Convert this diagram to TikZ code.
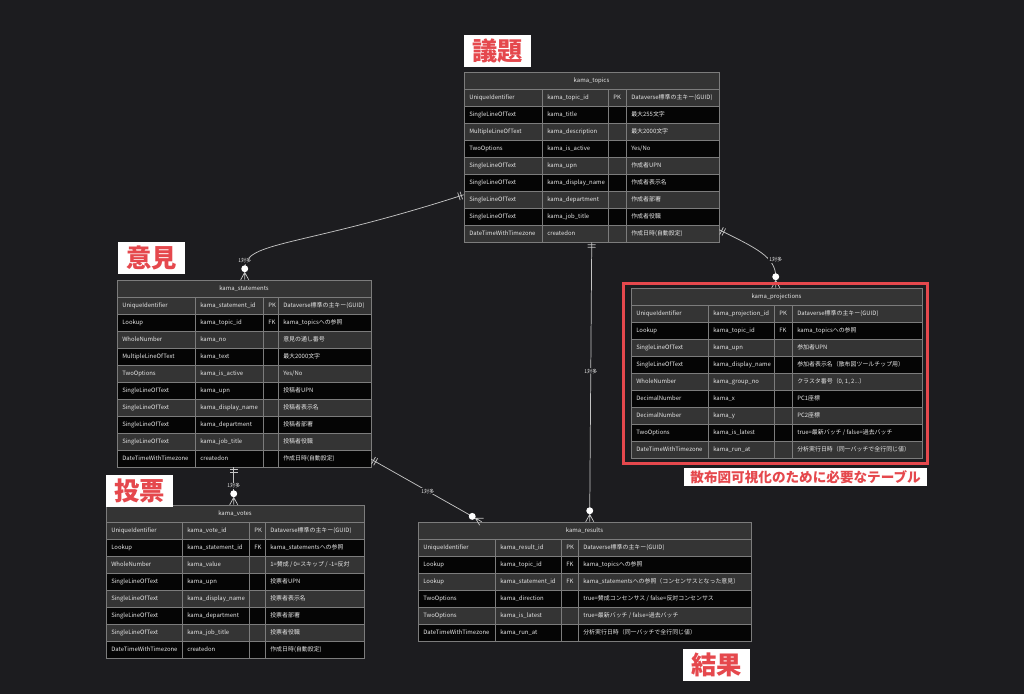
\documentclass[tikz,border=0pt]{standalone}
\usepackage{fontspec}
\setmainfont{Noto Sans CJK JP}
\usepackage{tikz}
\usetikzlibrary{calc,fit,positioning}

\definecolor{bgcol}{HTML}{1C1C1F}
\definecolor{rowodd}{HTML}{343434}
\definecolor{roweven}{HTML}{050505}
\definecolor{gridcol}{HTML}{7C7C7C}
\definecolor{celltext}{HTML}{E6E6E6}
\definecolor{relcol}{HTML}{C4C4C4}
\definecolor{redcol}{HTML}{E5484D}

% 表格: 名称, 左, 上, 列1, 列2, 列3, 右, 标题, 行
\newcommand{\erTable}[9]{%
  \coordinate (#1-tl) at (#2,#3);
  \fill[rowodd] (#2,#3) rectangle (#7,#3+17);
  \draw[gridline] (#2,#3) rectangle (#7,#3+17);
  \node[cell, anchor=center] at ({(#2+#7)/2},#3+8.5) {#8};
  \foreach \fType/\fName/\fKey/\fNote [count=\i] in {#9} {
    \pgfmathsetmacro{\yt}{#3+17*\i}
    \ifodd\i\relax \def\rowcol{rowodd}\else \def\rowcol{roweven}\fi
    \fill[\rowcol] (#2,\yt) rectangle (#7,\yt+17);
    \draw[gridline] (#2,\yt) rectangle (#4,\yt+17) rectangle (#5,\yt)
      rectangle (#6,\yt+17) rectangle (#7,\yt);
    \node[cell] at (#2+5,\yt+8.5) {\fType};
    \node[cell] at (#4+5,\yt+8.5) {\fName};
    \node[cell] at (#5+5,\yt+8.5) {\fKey};
    \node[cell] at (#6+5,\yt+8.5) {\fNote};
    \coordinate (#1-br) at (#7,\yt+17);
  }
  \node[fit=(#1-tl)(#1-br), inner sep=0pt] (#1) {};
}

% 关系端点: 一
\newcommand{\oneMark}[2]{%
  \foreach \d in {1.9,3.8} {
    \coordinate (om) at ($(#1)!\d pt!(#2)$);
    \draw[rel] ($(om)!3pt!90:(#2)$) -- ($(om)!3pt!-90:(#2)$);
  }
}
% 关系端点: 零或多
\newcommand{\manyMark}[2]{%
  \coordinate (mm) at ($(#1)!5.5pt!(#2)$);
  \draw[rel] (#2) -- (mm) -- ($(#1)!3pt!90:(#2)$)
    (mm) -- (#1) (mm) -- ($(#1)!3pt!-90:(#2)$);
  \fill[white] (#2) circle (2.6pt);
}

\begin{document}
\begin{tikzpicture}[x=0.75pt, y=-0.75pt,
    gridline/.style={draw=gridcol, line width=0.5pt},
    cell/.style={anchor=west, inner sep=0pt, text=celltext, font=\fontsize{4.45}{5.2}\selectfont},
    rel/.style={draw=relcol, line width=0.55pt},
    rellabel/.style={fill=bgcol, inner sep=0.6pt, text=celltext, font=\fontsize{3.8}{4}\selectfont},
    bigtag/.style={fill=white, text=redcol, inner sep=0pt, anchor=north west,
      minimum width=50pt, minimum height=24pt, font=\fontsize{19}{19}\selectfont\bfseries},
    notetag/.style={fill=white, text=redcol, inner sep=0pt, anchor=north west,
      minimum width=182pt, minimum height=13pt, font=\fontsize{10.2}{11}\selectfont\bfseries}]
    % 背景
    \fill[bgcol] (0,0) rectangle (1024,694);
    \useasboundingbox (0,0) rectangle (1024,694);

    % 议题表
    \erTable{topics}{464}{72}{542}{608}{626}{719}{kama\_topics}{
      UniqueIdentifier/kama\_topic\_id/PK/Dataverse標準の主キー(GUID),
      SingleLineOfText/kama\_title//最大255文字,
      MultipleLineOfText/kama\_description//最大2000文字,
      TwoOptions/kama\_is\_active//{Yes/No},
      SingleLineOfText/kama\_upn//作成者UPN,
      SingleLineOfText/kama\_display\_name//作成者表示名,
      SingleLineOfText/kama\_department//作成者部署,
      SingleLineOfText/kama\_job\_title//作成者役職,
      DateTimeWithTimezone/createdon//作成日時(自動設定)}

    % 意见表
    \erTable{statements}{117}{280}{195}{263}{278}{371}{kama\_statements}{
      UniqueIdentifier/kama\_statement\_id/PK/Dataverse標準の主キー(GUID),
      Lookup/kama\_topic\_id/FK/kama\_topicsへの参照,
      WholeNumber/kama\_no//意見の通し番号,
      MultipleLineOfText/kama\_text//最大2000文字,
      TwoOptions/kama\_is\_active//{Yes/No},
      SingleLineOfText/kama\_upn//投稿者UPN,
      SingleLineOfText/kama\_display\_name//投稿者表示名,
      SingleLineOfText/kama\_department//投稿者部署,
      SingleLineOfText/kama\_job\_title//投稿者役職,
      DateTimeWithTimezone/createdon//作成日時(自動設定)}

    % 投影表
    \erTable{projections}{631}{288}{708}{774}{792}{922}{kama\_projections}{
      UniqueIdentifier/kama\_projection\_id/PK/Dataverse標準の主キー(GUID),
      Lookup/kama\_topic\_id/FK/kama\_topicsへの参照,
      SingleLineOfText/kama\_upn//参加者UPN,
      SingleLineOfText/kama\_display\_name//参加者表示名（散布図ツールチップ用）,
      WholeNumber/kama\_group\_no//{クラスタ番号（0, 1, 2...）},
      DecimalNumber/kama\_x//PC1座標,
      DecimalNumber/kama\_y//PC2座標,
      TwoOptions/kama\_is\_latest//{true=最新バッチ / false=過去バッチ},
      DateTimeWithTimezone/kama\_run\_at//分析実行日時（同一バッチで全行同じ値）}

    % 投票表
    \erTable{votes}{106}{505}{182}{249}{265}{364}{kama\_votes}{
      UniqueIdentifier/kama\_vote\_id/PK/Dataverse標準の主キー(GUID),
      Lookup/kama\_statement\_id/FK/kama\_statementsへの参照,
      WholeNumber/kama\_value//{1=賛成 / 0=スキップ / -1=反対},
      SingleLineOfText/kama\_upn//投票者UPN,
      SingleLineOfText/kama\_display\_name//投票者表示名,
      SingleLineOfText/kama\_department//投票者部署,
      SingleLineOfText/kama\_job\_title//投票者役職,
      DateTimeWithTimezone/createdon//作成日時(自動設定)}

    % 结果表
    \erTable{results}{418}{522}{495}{561}{578}{751}{kama\_results}{
      UniqueIdentifier/kama\_result\_id/PK/Dataverse標準の主キー(GUID),
      Lookup/kama\_topic\_id/FK/kama\_topicsへの参照,
      Lookup/kama\_statement\_id/FK/kama\_statementsへの参照（コンセンサスとなった意見）,
      TwoOptions/kama\_direction//{true=賛成コンセンサス / false=反対コンセンサス},
      TwoOptions/kama\_is\_latest//{true=最新バッチ / false=過去バッチ},
      DateTimeWithTimezone/kama\_run\_at//分析実行日時（同一バッチで全行同じ値）}

    % 议题 -> 意见
    \coordinate (c1s) at ($(topics.north west)+(0,123)$);
    \coordinate (c1e) at ($(statements.north west)+(128,0)$);
    \coordinate (c1o) at ($(c1e)+(0,-11)$);
    \coordinate (c1d) at ($(c1s)+(-164,53)$);
    \draw[rel] (c1s) .. controls (c1d) and ($(c1o)+(0,-28)$) .. (c1o);
    \oneMark{c1s}{c1d}
    \manyMark{c1e}{c1o}
    \node[rellabel] at ($(c1o)+(0,-8)$) {1対多};

    % 议题 -> 投影
    \coordinate (c2s) at ($(topics.north east)+(0,158)$);
    \coordinate (c2e) at ($(projections.north west)+(145,0)$);
    \coordinate (c2o) at ($(c2e)+(0,-11)$);
    \coordinate (c2d) at ($(c2s)+(36,18)$);
    \draw[rel] (c2s) .. controls (c2d) and ($(c2o)+(0,-20)$) .. (c2o);
    \oneMark{c2s}{c2d}
    \manyMark{c2e}{c2o}
    \node[rellabel] at ($(c2o)+(0,-17)$) {1対多};

    % 议题 -> 结果
    \coordinate (c3s) at ($(topics.south west)+(128,0)$);
    \coordinate (c3e) at ($(results.north west)+(172,0)$);
    \coordinate (c3o) at ($(c3e)+(0,-11)$);
    \draw[rel] (c3s) -- (c3o) node[rellabel, pos=0.48] {1対多};
    \oneMark{c3s}{c3o}
    \manyMark{c3e}{c3o}

    % 意见 -> 结果
    \coordinate (c4s) at ($(statements.south east)+(0,-8)$);
    \coordinate (c4e) at ($(results.north west)+(64,0)$);
    \coordinate (c4o) at ($(c4e)!8.2pt!(c4s)$);
    \draw[rel] (c4s) -- (c4o) node[rellabel, pos=0.56] {1対多};
    \oneMark{c4s}{c4o}
    \manyMark{c4e}{c4o}

    % 意见 -> 投票
    \coordinate (c5s) at ($(statements.south west)+(117,0)$);
    \coordinate (c5e) at ($(votes.north west)+(128,0)$);
    \coordinate (c5o) at ($(c5e)+(0,-11)$);
    \draw[rel] (c5s) -- (c5o);
    \node[rellabel] at ($(c5o)+(0,-8)$) {1対多};
    \oneMark{c5s}{c5o}
    \manyMark{c5e}{c5o}

    % 散布图红框及说明
    \draw[redcol, line width=2.2pt] ($(projections.north west)+(-7,-4)$) rectangle ($(projections.south east)+(5,5)$);
    \node[notetag] (noteProj) at (684,468) {散布図可視化のために必要なテーブル};

    % 标签
    \node[bigtag] (tagTopics) at (464,35) {議題};
    \node[bigtag] (tagStatements) at (118,242) {意見};
    \node[bigtag] (tagVotes) at (106,475) {投票};
    \node[bigtag] (tagResults) at (683,649) {結果};
\end{tikzpicture}
\end{document}
